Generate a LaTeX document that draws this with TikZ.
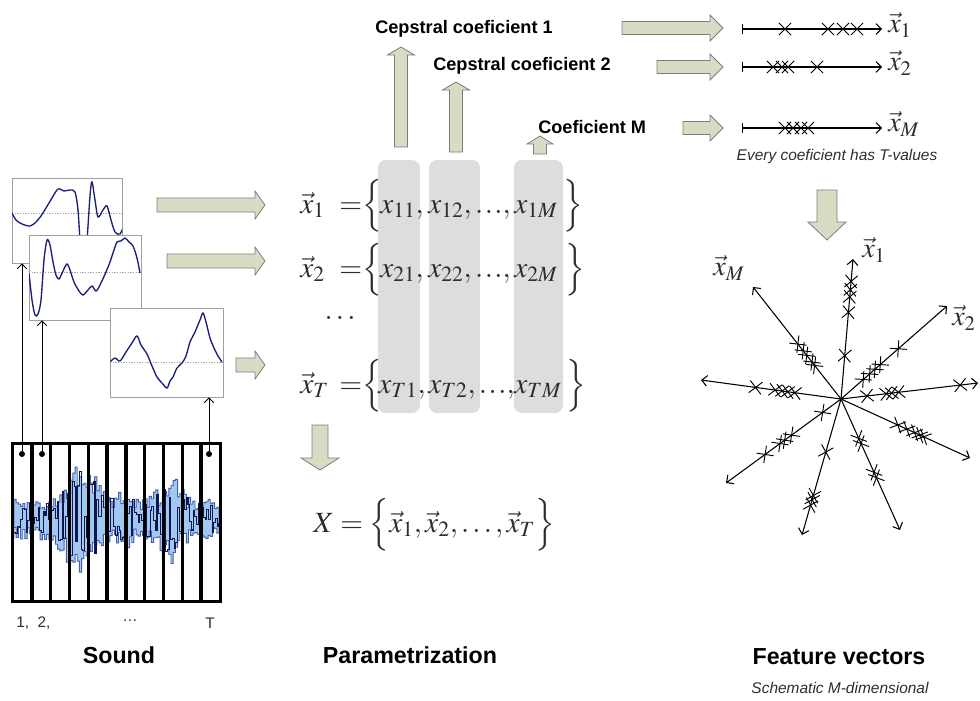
\documentclass[tikz,border=0pt]{standalone}
\usepackage{mathptmx}
\usepackage[no-math]{fontspec}
\setmainfont{Liberation Sans}
\usetikzlibrary{arrows.meta,shapes.misc,fit}

\definecolor{blkfill}{RGB}{216,220,196}
\definecolor{blkline}{RGB}{125,125,125}
\definecolor{colgray}{RGB}{221,221,221}
\definecolor{wavenavy}{RGB}{25,30,120}
\definecolor{sndlight}{RGB}{160,200,240}
\definecolor{sndmid}{RGB}{70,95,170}
\definecolor{snddark}{RGB}{15,22,80}
\definecolor{txtgray}{RGB}{45,45,45}

% horizontal block arrow: {y}{x tail}{x head base}{x tip}{body half}{head half}
\newcommand\hblock[6]{\draw[blk] (#2,{#1-#5}) -- (#3,{#1-#5}) -- (#3,{#1-#6}) -- (#4,#1)
  -- (#3,{#1+#6}) -- (#3,{#1+#5}) -- (#2,{#1+#5}) -- cycle;}
% vertical block arrow: {x}{y tail}{y head base}{y tip}{body half}{head half}
\newcommand\vblock[6]{\draw[blk] ({#1-#5},#2) -- ({#1-#5},#3) -- ({#1-#6},#3) -- (#1,#4)
  -- ({#1+#6},#3) -- ({#1+#5},#3) -- ({#1+#5},#2) -- cycle;}
% compact ellipsis between commas
\newcommand\cdotsrow{{,}\mskip2mu{\ldotp}\mskip1mu{\ldotp}\mskip1mu{\ldotp}{,}}

\tikzset{
  declare function={env(\t)=20+42*exp(-((\t-80)/20)^2)+12*exp(-((\t-125)/12)^2)+28*exp(-((\t-170)/14)^2);},
  blk/.style={draw=blkline, fill=blkfill, line width=0.6pt, line join=miter},
  win/.style={draw=gray!75, fill=white, line width=0.6pt, inner sep=0pt},
  winwave/.style={draw=wavenavy, line width=1pt},
  midline/.style={gray!70, line width=0.4pt, dash pattern=on 1pt off 1pt},
  link/.style={-{Straight Barb[length=3.5pt,width=7pt]}, line width=0.7pt},
  axis/.style={-{Straight Barb[length=4pt,width=8pt]}, line width=0.8pt},
  numline/.style={{Bar[width=7pt]}-{Straight Barb[length=4pt,width=8pt]}, line width=0.8pt},
  xmark/.style={draw, cross out, minimum size=8.5pt, inner sep=0pt, line width=0.7pt},
  dot/.style={circle, fill=black, inner sep=0pt, minimum size=4.5pt},
  frame/.style={line width=2.6pt},
  col/.style={fill=colgray, rounded corners=6pt, inner sep=0pt},
  mt/.style={font=\fontsize{22}{26}\selectfont, inner sep=0pt, anchor=base west, text=txtgray},
  ml/.style={font=\fontsize{21}{25}\selectfont, inner sep=0pt, text=txtgray},
  head/.style={font=\bfseries\fontsize{13.6}{16}\selectfont, inner sep=0pt},
  title/.style={font=\bfseries\fontsize{17.4}{20}\selectfont, inner sep=0pt},
  note/.style={font=\itshape\fontsize{11.6}{14}\selectfont, inner sep=0pt, text=txtgray},
  tick/.style={font=\fontsize{11.5}{13}\selectfont, inner sep=0pt, text=txtgray},
}

\begin{document}
\begin{tikzpicture}[x=0.75pt,y=-0.75pt]
\useasboundingbox (0,0) rectangle (980,700);

% ---------- sound signal cut into frames ----------
\node[fit={(13,444) (220,601)}, inner sep=0pt] (snd) {};
\begin{scope}
  \clip (14,446) rectangle (219,599);
  \pgfmathsetseed{11}
  \filldraw[fill=sndlight, draw=sndmid, line width=0.7pt]
    plot[const plot, domain=14:219, samples=95] (\x,{519-env(\x)*(0.4+0.6*rnd)})
    -- plot[const plot, domain=219:14, samples=95] (\x,{519+env(\x)*(0.4+0.6*rnd)}) -- cycle;
  \pgfmathsetseed{29}
  \draw[snddark, line width=0.8pt] plot[const plot, domain=14:219, samples=120] (\x,{519+0.8*env(\x)*rand});
\end{scope}
\draw[frame] (snd.north west) rectangle (snd.south east);
\foreach \k in {1,...,10} \draw[frame] ({13+18.82*\k},444) -- ({13+18.82*\k},601);

\node[dot] (d1) at (22,454) {};
\node[dot] (d2) at (42,454) {};
\node[dot] (d3) at (209,454) {};

\node[tick, anchor=west] (t12) at (16,623) {1,\ \ 2,};
\node[tick] (tdots) at (130,621) {\dots};
\node[tick] (tT) at (210,623) {T};

% ---------- frame windows ----------
\node[win, fit={(12,178) (122,263)}] (w1) {};
\begin{scope}
  \clip (12,178) rectangle (122,263);
  \draw[midline] (12,213) -- (122,213);
  \draw[winwave] plot[smooth] coordinates {(12,213) (16,220) (22,224) (30,226) (36,222) (41,216)
    (46,208) (52,198) (58,189) (64,191) (70,190) (75,192) (78,210) (81,250) (86,250) (90,196)
    (92,182) (95,200) (98,217) (103,210) (107,206) (111,220) (115,232) (120,234) (124,225)};
\end{scope}

\node[win, fit={(29,235) (141,320)}] (w2) {};
\begin{scope}
  \clip (29,235) rectangle (141,320);
  \draw[midline] (29,272) -- (141,272);
  \draw[winwave] plot[smooth] coordinates {(29,273) (32,300) (35,315) (38,314) (41,300) (44,260)
    (47,240) (50,245) (53,262) (56,275) (59,279) (63,271) (67,264) (70,270) (74,282) (79,291)
    (83,295) (88,290) (92,286) (96,291) (100,285) (106,272) (110,262) (114,250) (117,242)
    (121,241) (125,238) (129,242) (133,246) (137,258) (140,273)};
\end{scope}

\node[win, fit={(110,308) (223,397)}] (w3) {};
\begin{scope}
  \clip (110,308) rectangle (223,397);
  \draw[midline] (110,362) -- (223,362);
  \draw[winwave] plot[smooth] coordinates {(110,362) (115,358) (120,361) (126,352) (132,343)
    (137,336) (141,345) (147,354) (152,366) (157,377) (162,383) (167,388) (170,381) (173,377)
    (177,368) (182,363) (186,356) (190,342) (195,332) (200,320) (203,313) (206,322) (210,338)
    (214,348) (218,356) (222,362)};
\end{scope}

\draw[link] (d1) -- (d1 |- w1.south);
\draw[link] (d2) -- (d2 |- w2.south);
\draw[link] (d3) -- (d3 |- w3.south);

% ---------- frames to vectors ----------
\hblock{205}{157}{255}{265}{7}{14}
\hblock{261}{167}{255}{265}{7}{14}
\hblock{365}{236}{255}{265}{7}{14}

% ---------- coefficient columns ----------
\node[col, fit={(378,160) (420,413)}] (c1) {};
\node[col, fit={(429,160) (480,413)}] (c2) {};
\node[col, fit={(514,160) (563,413)}] (c3) {};

\vblock{401}{147}{55}{47}{6.5}{13.5}
\vblock{456}{152}{90}{82}{6.5}{13.5}
\vblock{540}{154}{144}{136}{6.5}{13}

\node[head] (cc1) at (464,29) {Cepstral coeficient 1};
\node[head, anchor=west] (cc2) at (433,66) {Cepstral coeficient 2};
\node[head, anchor=west] (ccm) at (538,127) {Coeficient M};

% ---------- parameter vectors ----------
\node[mt] (r1v) at (300,213) {$\vec{x}_1$};
\node[mt] (r1e) at (339,213) {$=$};
\node[mt] (r1l) at (362,213) {$\Bigl\{$};
\node[mt] (r1a) at (380,213) {$x_{11},$};
\node[mt] (r1b) at (428,213) {$x_{12}\cdotsrow$};
\node[mt] (r1c) at (514,213) {$x_{1M}$};
\node[mt] (r1r) at (563,213) {$\Bigr\}$};

\node[mt] (r2v) at (300,277) {$\vec{x}_2$};
\node[mt] (r2e) at (339,277) {$=$};
\node[mt] (r2l) at (362,277) {$\Bigl\{$};
\node[mt] (r2a) at (380,277) {$x_{21},$};
\node[mt] (r2b) at (428,277) {$x_{22}\cdotsrow$};
\node[mt] (r2c) at (514,277) {$x_{2M}$};
\node[mt] (r2r) at (565,277) {$\Bigr\}$};

\node[mt, anchor=center] (rdots) at (340,318) {$\ldots$};

\node[mt] (r3v) at (300,393) {$\vec{x}_T$};
\node[mt] (r3e) at (339,393) {$=$};
\node[mt] (r3l) at (362,393) {$\Bigl\{$};
\node[mt] (r3a) at (378,393) {$x_{T1},$};
\node[mt] (r3b) at (428,393) {$x_{T2}\cdotsrow$};
\node[mt] (r3c) at (514,393) {$x_{TM}$};
\node[mt] (r3r) at (566,393) {$\Bigr\}$};

\vblock{320}{425}{458}{470}{8}{19}

\node[mt] (bigX) at (313,532) {$X=\Bigl\{\vec{x}_1,\vec{x}_2,\ldots,\vec{x}_T\Bigr\}$};

% ---------- value ranges of the coefficients ----------
\hblock{28}{622}{710}{723}{6.5}{13}
\hblock{67}{657}{710}{723}{6.5}{13}
\hblock{128}{683}{710}{723}{6.5}{13}

\coordinate (n1s) at (742,29);  \coordinate (n1e) at (882,29);
\coordinate (n2s) at (742,67);  \coordinate (n2e) at (882,67);
\coordinate (nMs) at (742,128); \coordinate (nMe) at (882,128);
\draw[numline] (n1s) -- (n1e);
\draw[numline] (n2s) -- (n2e);
\draw[numline] (nMs) -- (nMe);
\foreach \p in {785,828,843,857} \node[xmark] at (\p,29) {};
\foreach \p in {773,782,788,817} \node[xmark] at (\p,67) {};
\foreach \p in {785,793,801,808} \node[xmark] at (\p,128) {};
\node[ml, anchor=west] (l1) at (888,25) {$\vec{x}_1$};
\node[ml, anchor=west] (l2) at (888,63) {$\vec{x}_2$};
\node[ml, anchor=west] (lM) at (888,124) {$\vec{x}_M$};

\node[note] (every) at (837,156) {Every coeficient has T-values};

\vblock{827}{190}{222}{240}{10}{19}

% ---------- schematic feature space ----------
\coordinate (c) at (841,399);
\coordinate (a1) at (853,259);
\coordinate (a2) at (947,306);
\coordinate (a3) at (978,383);
\coordinate (a4) at (970,458);
\coordinate (a5) at (900,530);
\coordinate (a6) at (802,535);
\coordinate (a7) at (726,483);
\coordinate (a8) at (701,380);
\coordinate (a9) at (753,287);
\foreach \e in {a1,a2,a3,a4,a5,a6,a7,a8,a9} \draw[axis] (c) -- (\e);
\foreach \t in {0.31,0.62,0.73,0.78,0.84} \path (c) -- (a1) node[xmark, pos=\t, sloped] {};
\foreach \t in {0.21,0.27,0.32,0.37,0.54} \path (c) -- (a2) node[xmark, pos=\t, sloped] {};
\foreach \t in {0.19,0.33,0.37,0.42,0.87} \path (c) -- (a3) node[xmark, pos=\t, sloped] {};
\foreach \t in {0.44,0.51,0.57,0.61,0.64} \path (c) -- (a4) node[xmark, pos=\t, sloped] {};
\foreach \t in {0.30,0.34,0.56,0.60} \path (c) -- (a5) node[xmark, pos=\t, sloped] {};
\foreach \t in {0.39,0.71,0.74,0.78} \path (c) -- (a6) node[xmark, pos=\t, sloped] {};
\foreach \t in {0.16,0.43,0.49,0.53,0.66} \path (c) -- (a7) node[xmark, pos=\t, sloped] {};
\foreach \t in {0.33,0.38,0.42,0.47,0.61} \path (c) -- (a8) node[xmark, pos=\t, sloped] {};
\foreach \t in {0.30,0.33,0.39,0.43,0.49} \path (c) -- (a9) node[xmark, pos=\t, sloped] {};
\node[ml] (s1) at (874,250) {$\vec{x}_1$};
\node[ml] (s2) at (964,318) {$\vec{x}_2$};
\node[ml] (sM) at (729,268) {$\vec{x}_M$};

% ---------- titles ----------
\node[title] (tsound) at (119,655) {Sound};
\node[title] (tparam) at (410,655) {Parametrization};
\node[title] (tfeat) at (839,657) {Feature vectors};
\node[note] (schem) at (840,688) {Schematic M-dimensional};
\end{tikzpicture}
\end{document}
